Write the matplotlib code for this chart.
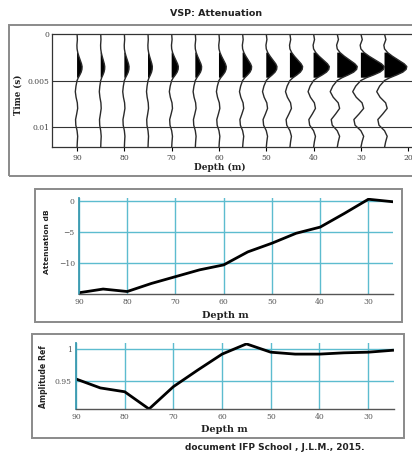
import matplotlib.pyplot as plt
import numpy as np
from matplotlib.patches import Rectangle

# --- data ---
trace_depths = [90, 85, 80, 75, 70, 65, 60, 55, 50, 45, 40, 35, 30, 25]
trace_amps = [1.06, 0.85, 0.99, 0.91, 1.41, 1.33, 1.54, 1.90, 2.26, 2.68, 3.32, 4.23, 4.93, 4.71]

# normalised trace shape (time in s, relative amplitude)
wave_t = [0.0000, 0.0006, 0.0012, 0.0016, 0.0020, 0.0024, 0.0028, 0.0032, 0.0035,
          0.0038, 0.0041, 0.0044, 0.0047, 0.0050, 0.0056, 0.0062, 0.0068, 0.0074,
          0.0080, 0.0086, 0.0092, 0.0098, 0.0104, 0.0110, 0.0116, 0.0122]
wave_v = [0.00, 0.06, -0.03, 0.00, 0.14, 0.36, 0.62, 0.88, 1.00,
          0.97, 0.82, 0.55, 0.24, 0.00, -0.22, -0.35, -0.20, 0.05,
          0.12, -0.08, -0.30, -0.25, 0.00, 0.12, 0.05, 0.00]

att_depth = [90, 87.5, 85, 82.5, 80, 75, 70, 65, 60, 55, 50, 45, 40, 35, 30, 25]
att_db = [-14.8, -14.5, -14.2, -14.4, -14.6, -13.3, -12.2, -11.1, -10.3, -8.2,
          -6.8, -5.2, -4.2, -2.0, 0.3, -0.1]

amp_depth = [90, 85, 80, 75, 70, 65, 60, 55, 50, 45, 40, 35, 30, 25]
amp_ref = [0.953, 0.939, 0.933, 0.906, 0.941, 0.967, 0.992, 1.008, 0.995, 0.992,
           0.992, 0.994, 0.995, 0.998]

W, H = 412, 457
fig = plt.figure(figsize=(W / 100, H / 100), dpi=100)


def box(x0, y0, x1, y1):
    return [x0 / W, 1 - y1 / H, (x1 - x0) / W, (y1 - y0) / H]


def frame(x0, y0, x1, y1):
    fig.add_artist(Rectangle((x0 / W, 1 - y1 / H), (x1 - x0) / W, (y1 - y0) / H,
                             transform=fig.transFigure, fill=False,
                             edgecolor="#8a8a8a", lw=1.4))


def ftext(x, y, s, **kw):
    fig.text(x / W, 1 - y / H, s, **kw)


SERIF = "DejaVu Serif"
TEAL = "#5cbccf"

# --- 1. VSP traces ---
frame(9, 25, 420, 176)
ftext(216, 13, "VSP: Attenuation", ha="center", va="center", fontsize=6.8,
      fontweight="bold", color="#222")
ax1 = fig.add_axes(box(52, 34, 420, 147))
t = np.array(wave_t)
v = np.array(wave_v)
first_arrival = (t <= 0.005) & (v > 0)
for d, a in zip(trace_depths, trace_amps):
    x = d - a * v
    ax1.plot(x, t, color="#2a2a2a", lw=1.0)
    ax1.fill_betweenx(t, d, x, where=first_arrival, color="black", lw=0)
ax1.set_xlim(95.3, 17.5)
ax1.set_ylim(0.01215, 0)
for yv in [0.005, 0.01]:
    ax1.axhline(yv, color="#333", lw=0.8)
ax1.spines["right"].set_visible(False)
for s in ["left", "top", "bottom"]:
    ax1.spines[s].set_color("#333")
    ax1.spines[s].set_linewidth(0.9)
ax1.set_xticks([90, 80, 70, 60, 50, 40, 30, 20])
ax1.set_xticklabels(["90", "80", "70", "60", "50", "40", "30", "20"],
                    family=SERIF, fontsize=5.5, color="#444")
ax1.set_yticks([0, 0.005, 0.01])
ax1.set_yticklabels(["0", "0.005", "0.01"], family=SERIF, fontsize=5.5, color="#444")
ax1.tick_params(axis="x", length=3, width=0.8, pad=2)
ax1.tick_params(axis="y", length=0, pad=2)
ftext(18, 95, "Time (s)", rotation=90, ha="center", va="center", family=SERIF,
      fontsize=6.2, fontweight="bold", color="#222")
ftext(220, 167, "Depth (m)", ha="center", va="center", family=SERIF,
      fontsize=6.5, fontweight="bold", color="#222")

# --- 2. Attenuation ---
frame(35, 189, 402, 322)
ax2 = fig.add_axes(box(79, 198, 393, 294))
ax2.plot(att_depth, att_db, color="black", lw=2)
ax2.set_xlim(90, 24.9)
ax2.set_ylim(-15, 0.5)
ax2.set_xticks([90, 80, 70, 60, 50, 40, 30])
ax2.set_yticks([0, -5, -10])
ax2.grid(True, color=TEAL, lw=1.0)

# --- 3. Amplitude ratio ---
frame(32, 334, 404, 438)
ax3 = fig.add_axes(box(76, 343, 394, 409))
ax3.plot(amp_depth, amp_ref, color="black", lw=2)
ax3.set_xlim(90, 24.7)
ax3.set_ylim(0.906, 1.0094)
ax3.set_xticks([90, 80, 70, 60, 50, 40, 30])
ax3.set_yticks([0.95, 1.0])
ax3.set_yticklabels(["0.95", "1"])
ax3.grid(True, color=TEAL, lw=1.0)

for ax in (ax2, ax3):
    ax.set_axisbelow(True)
    ax.spines["top"].set_visible(False)
    ax.spines["right"].set_visible(False)
    ax.spines["left"].set_color("#3a9ab0")
    ax.spines["left"].set_linewidth(1.3)
    ax.spines["bottom"].set_color("#555")
    ax.spines["bottom"].set_linewidth(1.0)
    ax.tick_params(length=0, pad=3, labelsize=5.5, labelcolor="#555")
    for lab in ax.get_xticklabels() + ax.get_yticklabels():
        lab.set_family(SERIF)

ftext(47, 242, "Attenuation dB", rotation=90, ha="center", va="center",
      fontsize=5.4, fontweight="bold", color="#222")
ftext(225, 315, "Depth m", ha="center", va="center", family=SERIF,
      fontsize=7, fontweight="bold", color="#222")
ftext(44, 377, "Amplitude Ref", rotation=90, ha="center", va="center",
      fontsize=5.6, fontweight="bold", color="#222")
ftext(224, 430, "Depth m", ha="center", va="center", family=SERIF,
      fontsize=7, fontweight="bold", color="#222")
ftext(275, 448, "document IFP School , J.L.M., 2015.", ha="center", va="center",
      fontsize=6.5, fontweight="bold", color="#222")

fig.savefig("out.png", dpi=100)
